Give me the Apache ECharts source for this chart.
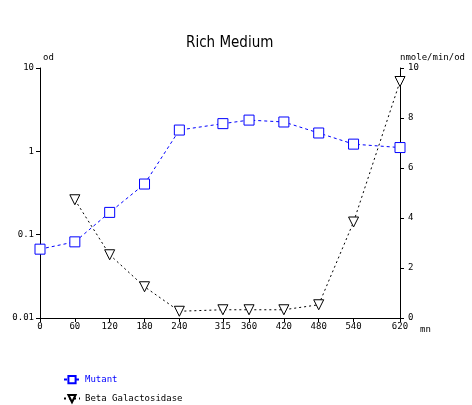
<!DOCTYPE html>
<html>
<head>
<meta charset="utf-8">
<script src="https://cdn.jsdelivr.net/npm/echarts@6/dist/echarts.min.js"></script>
<style>html,body{margin:0;padding:0;background:#fff}#c{width:472px;height:405px}</style>
</head>
<body>
<div id="c"></div>
<script>
var times = [0, 60, 120, 180, 240, 315, 360, 420, 480, 540, 620];
var xTickLabels = [0, 60, 120, 180, 240, 315, 360, 420, 480, 540, 620];
var mutantOD = [0.067, 0.082, 0.185, 0.405, 1.80, 2.15, 2.37, 2.25, 1.66, 1.22, 1.11];
var betaTimes = [60, 120, 180, 240, 315, 360, 420, 480, 540, 620];
var betaGal = [4.73, 2.53, 1.25, 0.27, 0.33, 0.33, 0.33, 0.53, 3.84, 9.46];
var leftTicks = [0.01, 0.1, 1, 10];

var FONT = 'DejaVu Sans Mono';
var chart = echarts.init(document.getElementById('c'), null, {renderer: 'canvas'});
var legendBase = {
  orient: 'horizontal', left: 58, itemWidth: 16, itemHeight: 9,
  textStyle: {fontFamily: FONT, fontSize: 9, color: '#000'}
};
chart.setOption({
  animation: false,
  backgroundColor: '#fff',
  textStyle: {fontFamily: FONT},
  title: {
    text: 'Rich Medium', left: 181, top: 31,
    textStyle: {fontFamily: 'DejaVu Sans Condensed', fontSize: 15, fontWeight: 'normal', color: '#000'}
  },
  legend: [
    Object.assign({}, legendBase, {top: 370, data: [{name: 'Mutant', textStyle: {color: '#0000ff'}}]}),
    Object.assign({}, legendBase, {top: 389, data: [{name: 'Beta Galactosidase', textStyle: {color: '#000'}}]})
  ],
  grid: {left: 40, right: 72, top: 68, bottom: 87, containLabel: false},
  xAxis: {
    type: 'value', min: 0, max: 620,
    name: 'mn', nameLocation: 'end', nameGap: 20,
    nameTextStyle: {fontFamily: FONT, fontSize: 9, color: '#000', verticalAlign: 'top', padding: [7, 0, 0, 0]},
    axisLine: {lineStyle: {color: '#000', width: 1}},
    axisTick: {show: true, length: 4, inside: false, customValues: xTickLabels, lineStyle: {color: '#000'}},
    axisLabel: {customValues: xTickLabels, fontFamily: FONT, fontSize: 9, color: '#000', margin: 4},
    splitLine: {show: false}
  },
  yAxis: [
    {
      type: 'log', logBase: 10, min: 0.01, max: 10, position: 'left',
      name: 'od', nameLocation: 'end', nameGap: 6,
      nameTextStyle: {fontFamily: FONT, fontSize: 9, color: '#000', align: 'left', padding: [0, 0, 0, 3]},
      axisLine: {show: true, lineStyle: {color: '#000', width: 1}},
      axisTick: {show: true, length: 4, inside: false, customValues: leftTicks, lineStyle: {color: '#000'}},
      axisLabel: {customValues: leftTicks, fontFamily: FONT, fontSize: 9, color: '#000', margin: 6,
        formatter: function (v) { return String(+v.toPrecision(3)); }},
      splitLine: {show: false}
    },
    {
      type: 'value', min: 0, max: 10, interval: 2, position: 'right',
      name: 'nmole/min/od', nameLocation: 'end', nameGap: 6,
      nameTextStyle: {fontFamily: FONT, fontSize: 9, color: '#000', align: 'left', padding: [0, 0, 0, 0]},
      axisLine: {show: true, lineStyle: {color: '#000', width: 1}},
      axisTick: {show: true, length: 4, inside: false, lineStyle: {color: '#000'}},
      axisLabel: {fontFamily: FONT, fontSize: 9, color: '#000', margin: 8},
      splitLine: {show: false}
    }
  ],
  series: [
    {
      name: 'Mutant', type: 'line', yAxisIndex: 0,
      data: times.map(function (t, i) { return [t, mutantOD[i]]; }),
      symbol: 'rect', symbolSize: 10,
      itemStyle: {color: '#fff', borderColor: '#0000ff', borderWidth: 1},
      lineStyle: {color: '#0000ff', width: 1, type: [3, 3]},
      emphasis: {disabled: true}
    },
    {
      name: 'Beta Galactosidase', type: 'line', yAxisIndex: 1,
      data: betaTimes.map(function (t, i) { return [t, betaGal[i]]; }),
      symbol: 'triangle', symbolRotate: 180, symbolSize: 10,
      itemStyle: {color: '#fff', borderColor: '#000', borderWidth: 1},
      lineStyle: {color: '#000', width: 1, type: [2, 3]},
      emphasis: {disabled: true}
    }
  ]
});
</script>
</body>
</html>
